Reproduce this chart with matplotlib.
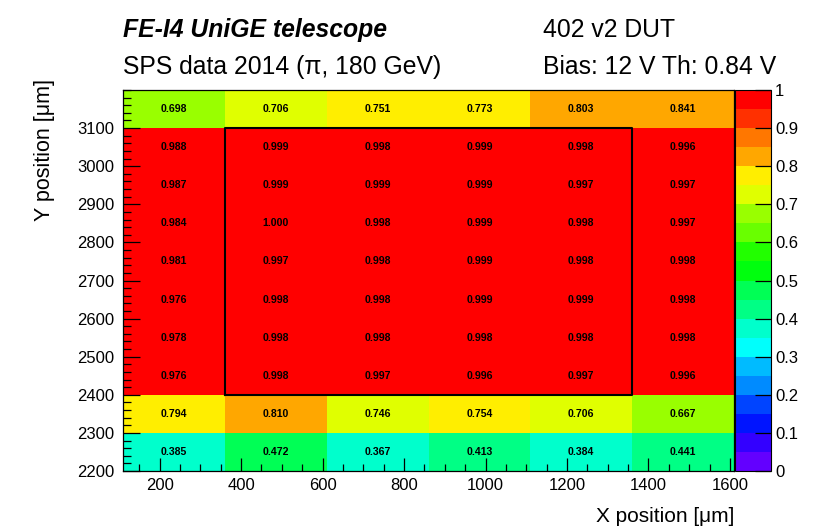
import colorsys
import numpy as np
import matplotlib
matplotlib.use("Agg")
import matplotlib.pyplot as plt
from matplotlib.colors import ListedColormap, BoundaryNorm
from matplotlib.ticker import MultipleLocator, FixedLocator

# ---- data ----
x_edges = [110, 360, 610, 860, 1110, 1360, 1610]
y_edges = [2200, 2300, 2400, 2500, 2600, 2700, 2800, 2900, 3000, 3100, 3200]
# rows listed bottom (2200-2300) to top (3100-3200)
eff_rows = [
    [0.385, 0.472, 0.367, 0.413, 0.384, 0.441],
    [0.794, 0.810, 0.746, 0.754, 0.706, 0.667],
    [0.976, 0.998, 0.997, 0.996, 0.997, 0.996],
    [0.978, 0.998, 0.998, 0.998, 0.998, 0.998],
    [0.976, 0.998, 0.998, 0.999, 0.999, 0.998],
    [0.981, 0.997, 0.998, 0.999, 0.998, 0.998],
    [0.984, 1.000, 0.998, 0.999, 0.998, 0.997],
    [0.987, 0.999, 0.999, 0.999, 0.997, 0.997],
    [0.988, 0.999, 0.998, 0.999, 0.998, 0.996],
    [0.698, 0.706, 0.751, 0.773, 0.803, 0.841],
]
y_tick_values = [2200, 2300, 2400, 2500, 2600, 2700, 2800, 2900, 3000, 3100]
box_x = [360, 1360]
box_y = [2400, 3100]
title_left = ["FE-I4 UniGE telescope", "SPS data 2014 (\u03c0, 180 GeV)"]
title_right = ["402 v2 DUT", "Bias: 12 V Th: 0.84 V"]
x_label = "X position [\u03bcm]"
y_label = "Y position [\u03bcm]"

# ---- ROOT "pretty" palette, 20 contours ----
ncont = 20
cols = []
for k in range(ncont):
    i = int((k + 0.99) * 50 / ncont)
    hue = 280 - (i + 1) * 5.6
    r, g, b = colorsys.hls_to_rgb(hue / 360.0, 0.5, 1.0)
    cols.append((r, g, b))
cmap = ListedColormap(cols)
cmap.set_over(cols[-1])
cmap.set_under(cols[0])
levels = np.linspace(0, 1, ncont + 1)
norm = BoundaryNorm(levels, ncont)

plt.rcParams['font.family'] = ['Liberation Sans', 'DejaVu Sans']

W, H = 830, 528
fig = plt.figure(figsize=(W / 100, H / 100), dpi=100)
ax = fig.add_axes([123 / W, 1 - 471 / H, 611 / W, 381 / H])
cax = fig.add_axes([735 / W, 1 - 471 / H, 36 / W, 381 / H])

Z = np.array(eff_rows)
mesh = ax.pcolormesh(x_edges, y_edges, Z, cmap=cmap, norm=norm)

xc = [(x_edges[i] + x_edges[i + 1]) / 2 for i in range(len(x_edges) - 1)]
yc = [(y_edges[j] + y_edges[j + 1]) / 2 for j in range(len(y_edges) - 1)]
for j, yy in enumerate(yc):
    for i, xx in enumerate(xc):
        ax.text(xx, yy, f"{Z[j, i]:.3f}", ha='center', va='center',
                fontsize=7.6, fontweight='bold', color='black')

ax.plot([box_x[0], box_x[1], box_x[1], box_x[0], box_x[0]],
        [box_y[0], box_y[0], box_y[1], box_y[1], box_y[0]],
        color='black', lw=1.5)

ax.set_xlim(x_edges[0], x_edges[-1])
ax.set_ylim(y_edges[0], y_edges[-1])
ax.xaxis.set_major_locator(MultipleLocator(200))
ax.xaxis.set_minor_locator(MultipleLocator(50))
ax.yaxis.set_major_locator(FixedLocator(y_tick_values))
ax.yaxis.set_minor_locator(MultipleLocator(20))
ax.tick_params(axis='x', which='major', direction='in', length=9.5, width=0.9,
               labelsize=12, pad=5)
ax.tick_params(axis='x', which='minor', direction='in', length=5, width=0.9)
ax.tick_params(axis='y', which='major', direction='in', length=12, width=0.9,
               labelsize=12, pad=6)
ax.tick_params(axis='y', which='minor', direction='in', length=6, width=0.9)
for s in ax.spines.values():
    s.set_linewidth(0.9)

cb = fig.colorbar(mesh, cax=cax, ticks=np.linspace(0, 1, 11))
cb.outline.set_linewidth(0.8)
cax.tick_params(direction='in', length=11.5, width=0.9, labelsize=12, pad=3)
cax.set_yticklabels(['0', '0.1', '0.2', '0.3', '0.4', '0.5', '0.6', '0.7',
                     '0.8', '0.9', '1'])
cax.minorticks_off()

fs_t = 17.8
fig.text(123 / W, 1 - 37 / H, title_left[0], fontsize=fs_t, fontweight='bold',
         fontstyle='italic', ha='left', va='baseline')
fig.text(123 / W, 1 - 74 / H, title_left[1], fontsize=fs_t,
         ha='left', va='baseline')
fig.text(543 / W, 1 - 37 / H, title_right[0], fontsize=fs_t,
         ha='left', va='baseline')
fig.text(543 / W, 1 - 74 / H, title_right[1], fontsize=fs_t,
         ha='left', va='baseline')

fig.text(734 / W, 1 - 522 / H, x_label, fontsize=15, ha='right', va='baseline')
fig.text(50 / W, 1 - 79 / H, y_label, fontsize=15.5, ha='right', va='baseline',
         rotation=90, rotation_mode='anchor')

fig.savefig("out.png", dpi=100)
